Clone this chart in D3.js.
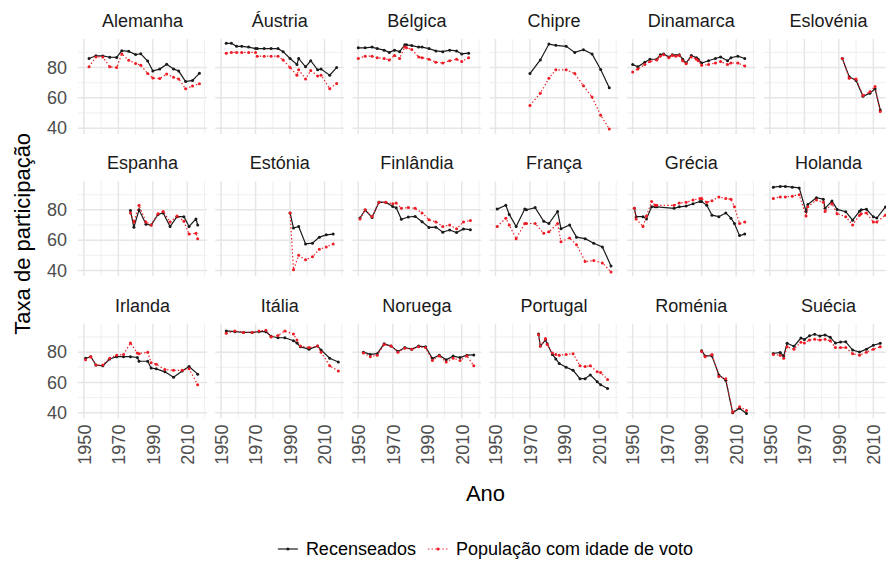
<!DOCTYPE html>
<html>
<head>
<meta charset="utf-8">
<script src="https://cdn.jsdelivr.net/npm/d3@7"></script>
<style>
  body { margin: 0; background: #fff; }
  svg { display: block; font-family: 'Liberation Sans', Arial, Helvetica, sans-serif; }
</style>
</head>
<body>
<div id="chart"></div>
<script>
// Taxa de participação eleitoral: recenseados vs população com idade de voto
const paises = ['Alemanha', 'Áustria', 'Bélgica', 'Chipre', 'Dinamarca', 'Eslovénia',
  'Espanha', 'Estónia', 'Finlândia', 'França', 'Grécia', 'Holanda',
  'Irlanda', 'Itália', 'Noruega', 'Portugal', 'Roménia', 'Suécia'];

const alemanhaAnos = [1953, 1957, 1961, 1965, 1969, 1972, 1976, 1980, 1983, 1987, 1990, 1994, 1998, 2002, 2005, 2009, 2013, 2017];
const alemanhaRec = [86, 87.8, 87.7, 86.8, 86.7, 91.1, 90.7, 88.6, 89.1, 84.3, 77.8, 79, 82.2, 79.1, 77.7, 70.8, 71.5, 76.2];
const alemanhaPop = [80.5, 87, 87, 80.5, 80, 89, 84.8, 82.7, 81.6, 76, 73.1, 72.7, 75.8, 73.6, 72.5, 66, 67.8, 69.3];

const austriaAnos = [1953, 1956, 1959, 1962, 1966, 1970, 1971, 1975, 1979, 1983, 1986, 1990, 1994, 1995, 1999, 2002, 2006, 2008, 2013, 2017];
const austriaRec = [96, 96, 94, 94, 93.5, 92.5, 92.5, 92.5, 92.5, 92.5, 90.5, 86, 82, 86, 80.5, 84.5, 78.5, 79, 75, 80];
const austriaPop = [89.5, 90, 90, 90, 90, 90, 87.5, 87.5, 87.5, 87.5, 85, 80, 75, 78.5, 72.5, 78, 74.5, 75, 66, 69.5];

const belgicaAnos = [1950, 1954, 1958, 1961, 1965, 1968, 1971, 1974, 1977, 1978, 1981, 1985, 1987, 1991, 1995, 1999, 2003, 2007, 2010, 2014];
const belgicaRec = [93, 93, 93.5, 92.5, 91.5, 90, 91.5, 90.5, 95, 95, 94.5, 93.5, 93.5, 92.5, 91, 90.5, 91.5, 91, 89, 89.5];
const belgicaPop = [86, 87.5, 87.5, 86.5, 86, 85, 88, 86, 93.5, 93, 92, 87, 86.5, 85.5, 83.5, 83, 84.5, 85.5, 84, 86.5];

const chipreAnos = [1970, 1976, 1981, 1985, 1991, 1996, 2001, 2006, 2011, 2016];
const chipreRec = [76, 85, 95.5, 94.7, 94, 90, 91.8, 89, 78.7, 66.7];
const chiprePop = [55, 63, 73, 78.5, 78.5, 76, 68, 60.5, 48.5, 39.5];

const dinamarcaAnos = [1950, 1953, 1957, 1960, 1964, 1966, 1968, 1971, 1973, 1975, 1977, 1979, 1981, 1984, 1987, 1988, 1990, 1994, 1998, 2001, 2005, 2007, 2011, 2015];
const dinamarcaRec = [82, 80.5, 83.5, 85.5, 85.5, 88.5, 89, 87, 88.5, 88, 88.5, 85.5, 83, 88, 86.5, 85.5, 83, 84.5, 86, 87, 84.5, 86.5, 87.5, 86];
const dinamarcaPop = [77, 79, 82, 84, 85, 87.5, 88.5, 86.5, 88, 87.5, 88, 84.5, 82.5, 87, 85.5, 84.5, 81.5, 82, 83, 84, 82, 83, 83, 81];

const esloveniaAnos = [1992, 1996, 2000, 2004, 2008, 2011, 2014];
const esloveniaRec = [86, 74, 71.5, 61, 63, 66, 52];
const esloveniaPop = [86, 73, 72.5, 61.5, 64, 67.5, 51];

const espanhaAnos = [1977, 1979, 1982, 1986, 1989, 1993, 1996, 2000, 2004, 2008, 2011, 2015, 2016];
const espanhaRec = [79.5, 68.5, 80, 70.5, 70, 77, 78, 69, 75.5, 75.5, 69, 74, 70];
const espanhaPop = [78, 72, 83, 72, 70, 77.5, 79, 72, 76, 72.5, 64, 64.5, 61];

const estoniaAnos = [1990, 1992, 1995, 1999, 2003, 2007, 2011, 2015];
const estoniaRec = [78, 68, 69, 57.5, 58, 62, 63.5, 64];
const estoniaPop = [78, 40.5, 50, 47, 49, 54, 55.5, 57.5];

const finlandiaAnos = [1951, 1954, 1958, 1962, 1966, 1970, 1972, 1975, 1979, 1983, 1987, 1991, 1995, 1999, 2003, 2007, 2011, 2015];
const finlandiaRec = [74.6, 79.9, 75, 85.1, 84.9, 82.2, 81.4, 73.8, 75.3, 75.7, 72.1, 68.4, 68.6, 65.3, 66.7, 65, 67.4, 66.9];
const finlandiaPop = [74, 80, 75.5, 85, 85, 84, 84.5, 81, 81.5, 81, 78, 73.5, 72, 69, 70, 67.5, 72, 73];

const francaAnos = [1951, 1956, 1958, 1962, 1967, 1968, 1973, 1978, 1981, 1986, 1988, 1993, 1997, 2002, 2007, 2012, 2017];
const francaRec = [80.5, 83, 77, 69, 80.5, 80, 81.5, 72.5, 71, 79, 67.5, 70, 62, 61, 58, 55.5, 43];
const francaPop = [69, 74.5, 70, 61, 71, 71, 71, 64.5, 65.5, 71, 59, 61.5, 57, 46, 46.5, 45, 39];

const greciaAnos = [1951, 1952, 1956, 1958, 1961, 1963, 1964, 1974, 1977, 1981, 1985, 1989, 1990, 1993, 1996, 2000, 2004, 2007, 2009, 2012, 2015];
const greciaRec = [81, 75.5, 75.5, 74, 82, 82, 82, 81, 82, 82.5, 84, 85.5, 85.5, 83, 76.5, 75.5, 78, 74.5, 71, 63, 64];
const greciaPop = [81, 74, 69, 76, 85.5, 83, 83, 83, 84.5, 85, 86.5, 87.5, 87.5, 85, 86, 88.5, 87.5, 87, 82, 71, 72];

const holandaAnos = [1952, 1956, 1959, 1963, 1967, 1971, 1972, 1977, 1981, 1982, 1986, 1989, 1994, 1998, 2002, 2003, 2006, 2010, 2012, 2017];
const holandaRec = [95, 95.5, 95.5, 95, 94.5, 79, 83.5, 88, 87, 81, 85.8, 80.3, 78.8, 73.2, 79.1, 80, 80.4, 75.4, 74.6, 81.9];
const holandaPop = [87.5, 88.5, 88.5, 89, 90, 76, 82, 86.5, 85, 79, 84, 77.5, 75.5, 70, 76.5, 77.5, 78, 72, 72, 76.5];

const irlandaAnos = [1951, 1954, 1957, 1961, 1965, 1969, 1973, 1977, 1981, 1982, 1987, 1989, 1992, 1997, 2002, 2007, 2011, 2016];
const irlandaRec = [76, 77, 71.5, 71, 75.5, 77, 77, 77, 76.5, 74, 74, 69.5, 69, 67, 63.5, 67.5, 70.5, 65.5];
const irlandaPop = [75, 77, 71.5, 71.5, 76, 78, 78.5, 86, 79.5, 79, 80, 73, 72, 68.5, 68, 68, 69, 58.5];

const italiaAnos = [1953, 1958, 1963, 1968, 1972, 1976, 1979, 1983, 1987, 1992, 1994, 1996, 2001, 2006, 2008, 2013, 2018];
const italiaRec = [94, 93.5, 93, 93, 93.5, 93.5, 90.5, 89.5, 89.5, 87.5, 86, 83.5, 82, 84, 81.5, 76, 73.5];
const italiaPop = [92.5, 94, 93, 93, 94, 94.5, 90, 91, 94, 92, 88, 84, 83, 84, 80, 71, 67.5];

const noruegaAnos = [1953, 1957, 1961, 1965, 1969, 1973, 1977, 1981, 1985, 1989, 1993, 1997, 2001, 2005, 2009, 2013, 2017];
const noruegaRec = [80, 78.5, 79, 85.5, 84, 80.5, 83, 82, 84, 83.5, 75.8, 78, 75, 77.4, 76.4, 78, 78.2];
const noruegaPop = [79.5, 77, 78, 85, 84, 80, 82.5, 82, 83.5, 83, 74.5, 77.5, 73.5, 76, 74.5, 77.5, 71];

const portugalAnos = [1975, 1976, 1979, 1980, 1983, 1985, 1987, 1991, 1995, 1999, 2002, 2005, 2009, 2011, 2015];
const portugalRec = [92, 84, 88, 85.5, 78.5, 75.5, 72.5, 70, 68, 62.5, 62.5, 65, 60.5, 58.5, 56];
const portugalPop = [91.5, 84, 89, 85, 79.5, 78.5, 78, 78.5, 79, 71, 70.5, 71, 67, 66.5, 62];

const romeniaAnos = [1990, 1992, 1996, 2000, 2004, 2008, 2012, 2016];
const romeniaRec = [81, 77.5, 77.5, 65, 61.5, 40, 43, 39.5];
const romeniaPop = [80.5, 77, 78.5, 64, 62.5, 40.5, 44, 41.5];

const sueciaAnos = [1952, 1956, 1958, 1960, 1964, 1968, 1970, 1973, 1976, 1979, 1982, 1985, 1988, 1991, 1994, 1998, 2002, 2006, 2010, 2014];
const sueciaRec = [79.1, 79.8, 77.4, 85.9, 83.9, 89.3, 88.3, 90.8, 91.8, 90.7, 91.4, 89.9, 86, 86.7, 86.8, 81.4, 80.1, 82, 84.6, 85.8];
const sueciaPop = [78.5, 78, 76, 83.5, 82, 86.5, 86, 88, 88.5, 88, 88.5, 87.5, 83, 83, 83, 79, 78, 80, 82, 83.5];

const anos = [alemanhaAnos, austriaAnos, belgicaAnos, chipreAnos, dinamarcaAnos, esloveniaAnos,
  espanhaAnos, estoniaAnos, finlandiaAnos, francaAnos, greciaAnos, holandaAnos,
  irlandaAnos, italiaAnos, noruegaAnos, portugalAnos, romeniaAnos, sueciaAnos];
const recenseados = [alemanhaRec, austriaRec, belgicaRec, chipreRec, dinamarcaRec, esloveniaRec,
  espanhaRec, estoniaRec, finlandiaRec, francaRec, greciaRec, holandaRec,
  irlandaRec, italiaRec, noruegaRec, portugalRec, romeniaRec, sueciaRec];
const populacao = [alemanhaPop, austriaPop, belgicaPop, chiprePop, dinamarcaPop, esloveniaPop,
  espanhaPop, estoniaPop, finlandiaPop, francaPop, greciaPop, holandaPop,
  irlandaPop, italiaPop, noruegaPop, portugalPop, romeniaPop, sueciaPop];

const xMajor = [1950, 1970, 1990, 2010];
const xMinor = [1940, 1960, 1980, 2000, 2020];
const yMajor = [40, 60, 80];
const yMinor = [30, 50, 70, 90];

const series = [
  { nome: 'Recenseados', valores: recenseados, cor: '#1a1a1a', dash: null },
  { nome: 'População com idade de voto', valores: populacao, cor: '#ee1c25', dash: '1.4,2.2' }
];

const W = 886, H = 564;
const marginLeft = 78, marginTop = 39;
const panelW = 129, panelH = 95;
const stepX = 137.2, stepY = 142.3;
const ncol = 6;

const svg = d3.select('#chart').append('svg')
  .attr('width', W)
  .attr('height', H)
  .attr('viewBox', `0 0 ${W} ${H}`);

// escalas comuns a todos os painéis (com expansão de 5%)
const allYears = anos.flat();
const allVals = recenseados.flat().concat(populacao.flat());
const [a0, a1] = d3.extent(allYears);
const ea = (a1 - a0) * 0.05;
const x = d3.scaleLinear().domain([a0 - ea, a1 + ea]).range([0, panelW]);
const [v0, v1] = d3.extent(allVals);
const ev = (v1 - v0) * 0.05;
const y = d3.scaleLinear().domain([v0 - ev, v1 + ev]).range([panelH, 0]);

const inX = (d) => d >= x.domain()[0] && d <= x.domain()[1];
const inY = (d) => d >= y.domain()[0] && d <= y.domain()[1];

const line = d3.line().x((d) => x(d.ano)).y((d) => y(d.v));
const nrow = Math.ceil(paises.length / ncol);

paises.forEach((nome, i) => {
  const col = i % ncol, row = Math.floor(i / ncol);
  const g = svg.append('g')
    .attr('transform', `translate(${marginLeft + col * stepX},${marginTop + row * stepY})`);

  // grelha
  const grid = g.append('g');
  grid.selectAll('.vmin').data(xMinor.filter(inX)).join('line')
    .attr('x1', (d) => x(d)).attr('x2', (d) => x(d))
    .attr('y1', 0).attr('y2', panelH)
    .attr('stroke', '#ebebeb').attr('stroke-width', 0.8);
  grid.selectAll('.hmin').data(yMinor.filter(inY)).join('line')
    .attr('x1', 0).attr('x2', panelW)
    .attr('y1', (d) => y(d)).attr('y2', (d) => y(d))
    .attr('stroke', '#ebebeb').attr('stroke-width', 0.8);
  grid.selectAll('.vmaj').data(xMajor).join('line')
    .attr('x1', (d) => x(d)).attr('x2', (d) => x(d))
    .attr('y1', 0).attr('y2', panelH)
    .attr('stroke', '#e6e6e6').attr('stroke-width', 1.5);
  grid.selectAll('.hmaj').data(yMajor).join('line')
    .attr('x1', 0).attr('x2', panelW)
    .attr('y1', (d) => y(d)).attr('y2', (d) => y(d))
    .attr('stroke', '#e6e6e6').attr('stroke-width', 1.5);

  // título do painel
  g.append('text')
    .attr('x', panelW / 2)
    .attr('y', -12)
    .attr('text-anchor', 'middle')
    .attr('font-size', '18px')
    .attr('fill', '#1a1a1a')
    .text(nome);

  // séries
  series.forEach((s) => {
    const pts = anos[i].map((a, k) => ({ ano: a, v: s.valores[i][k] }));
    g.append('path')
      .datum(pts)
      .attr('d', line)
      .attr('fill', 'none')
      .attr('stroke', s.cor)
      .attr('stroke-width', 1.2)
      .attr('stroke-dasharray', s.dash);
    g.append('g').selectAll('circle').data(pts).join('circle')
      .attr('cx', (d) => x(d.ano))
      .attr('cy', (d) => y(d.v))
      .attr('r', 1.5)
      .attr('fill', s.cor);
  });

  // eixo y só na primeira coluna
  if (col === 0) {
    const ay = g.append('g')
      .call(d3.axisLeft(y).tickValues(yMajor).tickSize(0).tickPadding(11));
    ay.attr('font-family', null);
    ay.select('.domain').remove();
    ay.selectAll('text')
      .attr('font-size', '18px')
      .attr('fill', '#4d4d4d');
  }

  // eixo x só na última linha
  if (row === nrow - 1) {
    const ax = g.append('g')
      .attr('transform', `translate(0,${panelH})`)
      .call(d3.axisBottom(x).tickValues(xMajor).tickFormat(d3.format('d')).tickSize(0));
    ax.attr('font-family', null);
    ax.select('.domain').remove();
    ax.selectAll('text')
      .attr('transform', 'rotate(-90)')
      .attr('text-anchor', 'end')
      .attr('x', -6)
      .attr('y', 0)
      .attr('dy', '0.35em')
      .attr('font-size', '18px')
      .attr('fill', '#4d4d4d');
  }
});

// títulos dos eixos
const plotRight = marginLeft + (ncol - 1) * stepX + panelW;
const plotBottom = marginTop + (nrow - 1) * stepY + panelH;

svg.append('text')
  .attr('x', (marginLeft + plotRight) / 2)
  .attr('y', 501)
  .attr('text-anchor', 'middle')
  .attr('font-size', '22px')
  .attr('fill', '#000')
  .text('Ano');

svg.append('text')
  .attr('transform', `translate(30,${(marginTop + plotBottom) / 2 + 5}) rotate(-90)`)
  .attr('text-anchor', 'middle')
  .attr('font-size', '22px')
  .attr('fill', '#000')
  .text('Taxa de participação');

// legenda
const leg = svg.append('g');
const keyW = 20;
let cx = 0;
series.forEach((s) => {
  const it = leg.append('g').attr('transform', `translate(${cx},0)`);
  it.append('line')
    .attr('x1', 0).attr('x2', keyW).attr('y1', -6).attr('y2', -6)
    .attr('stroke', s.cor).attr('stroke-width', 1.2)
    .attr('stroke-dasharray', s.dash);
  it.append('circle').attr('cx', keyW / 2).attr('cy', -6).attr('r', 1.5).attr('fill', s.cor);
  const t = it.append('text')
    .attr('x', keyW + 8)
    .attr('y', 0)
    .attr('font-size', '18px')
    .attr('fill', '#000')
    .text(s.nome);
  cx += keyW + 8 + t.node().getComputedTextLength() + 12;
});
const legW = cx - 12;
leg.attr('transform', `translate(${(marginLeft + plotRight) / 2 - legW / 2},555)`);
</script>
</body>
</html>
